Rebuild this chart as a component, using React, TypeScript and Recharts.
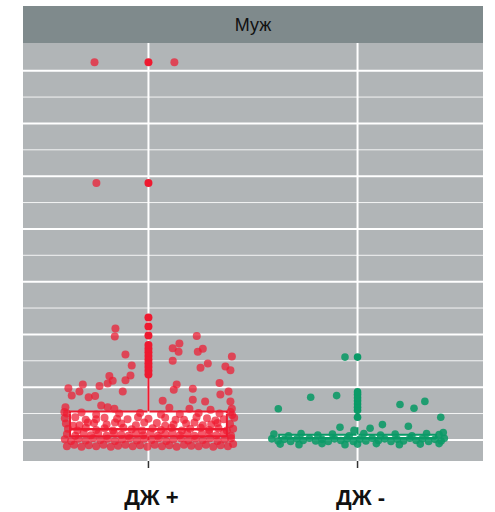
import React from 'react';
import {
  CartesianGrid,
  ComposedChart,
  ReferenceArea,
  ReferenceLine,
  Scatter,
  XAxis,
  YAxis,
} from 'recharts';

// categories on the x axis (1 = first, 2 = second)
const categories = ['ДЖ +', 'ДЖ -'];
const facetLabel = 'Муж';

// gridline values
const majorTicks = [0, 10, 20, 30, 40, 50, 60, 70];
const minorTicks = [5, 15, 25, 35, 45, 55, 65];

// jittered points away from the box: [offset from category, value]
const redSpread = [
  [-0.258, 71.6], [0.124, 71.6], [-0.249, 48.7],
  [-0.158, 21.1], [-0.161, 19.6], [-0.11, 16.2], [-0.08, 14.1], [-0.086, 12.2], [-0.11, 11.3],
  [-0.187, 12.1], [-0.171, 11.2], [-0.195, 10.7], [-0.234, 10.2], [-0.314, 10.5], [-0.383, 9.8],
  [-0.33, 9.2], [-0.367, 8.4], [-0.123, 9.2], [-0.286, 8.1], [-0.255, 8.3], [-0.226, 6.5],
  [-0.195, 6.2], [-0.163, 5.9], [-0.397, 6.2], [-0.402, 5.3],
  [0.231, 19.7], [0.148, 18.3], [0.116, 17.4], [0.144, 16.7], [0.236, 16.7], [0.26, 17.3],
  [0.116, 15.0], [0.399, 15.8], [0.284, 14.5], [0.249, 13.7], [0.368, 13.9], [0.392, 13.2],
  [0.135, 10.5], [0.121, 9.5], [0.212, 9.7], [0.34, 10.8], [0.383, 9.2], [0.344, 8.6],
  [0.068, 7.4], [0.212, 7.6], [0.271, 7.3], [0.392, 7.3], [0.1, 6.1], [0.196, 5.9],
  [0.297, 5.7], [0.399, 5.9], [0.392, 5.3],
];

// jittered points inside the dense band near zero
const redBand = [
  [-0.39, -1.2], [-0.355, -0.9], [-0.32, -1.3], [-0.285, -1.0], [-0.25, -1.2], [-0.215, -0.9],
  [-0.18, -1.3], [-0.145, -1.1], [-0.11, -0.9], [-0.075, -1.2], [-0.04, -1.0], [-0.005, -1.3],
  [0.03, -0.9], [0.065, -1.2], [0.1, -1.0], [0.135, -1.3], [0.17, -0.9], [0.205, -1.1],
  [0.24, -1.2], [0.275, -0.9], [0.31, -1.3], [0.345, -1.0], [0.38, -1.2], [0.405, -0.8],
  [-0.4, 0.1], [-0.37, -0.2], [-0.335, 0.2], [-0.3, -0.1], [-0.265, 0.3], [-0.23, 0],
  [-0.195, 0.2], [-0.16, -0.2], [-0.125, 0.1], [-0.09, 0.3], [-0.055, -0.1], [-0.02, 0.2],
  [0.015, 0], [0.05, 0.3], [0.085, -0.2], [0.12, 0.1], [0.155, 0.3], [0.19, -0.1],
  [0.225, 0.2], [0.26, 0], [0.295, 0.3], [0.33, -0.2], [0.365, 0.1], [0.395, 0.3],
  [-0.39, 1.1], [-0.35, 0.8], [-0.31, 1.3], [-0.275, 0.9], [-0.24, 1.2], [-0.2, 0.8],
  [-0.165, 1.3], [-0.13, 1.0], [-0.095, 0.8], [-0.06, 1.2], [-0.025, 0.9], [0.01, 1.3],
  [0.045, 0.8], [0.08, 1.1], [0.115, 1.3], [0.15, 0.9], [0.185, 1.2], [0.22, 0.8],
  [0.255, 1.1], [0.29, 1.3], [0.325, 0.9], [0.36, 1.2], [0.395, 0.8],
  [-0.385, 2.1], [-0.34, 1.8], [-0.3, 2.3], [-0.25, 1.9], [-0.21, 2.2], [-0.17, 1.8],
  [-0.12, 2.3], [-0.08, 2.0], [-0.03, 1.8], [0.02, 2.2], [0.06, 1.9], [0.11, 2.3],
  [0.16, 1.8], [0.2, 2.1], [0.25, 2.3], [0.29, 1.9], [0.335, 2.2], [0.375, 1.8], [0.405, 2.1],
  [-0.395, 3.1], [-0.36, 2.7], [-0.33, 2.8], [-0.29, 3.3], [-0.26, 3.2], [-0.2, 2.9],
  [-0.16, 3.3], [-0.13, 3.1], [-0.06, 2.8], [-0.02, 3.3], [0.04, 3.2], [0.08, 2.7],
  [0.12, 2.9], [0.18, 3.1], [0.22, 3.3], [0.26, 2.8], [0.3, 2.9], [0.33, 3.2], [0.39, 3.0],
  [-0.4, 4.1], [-0.35, 4.3], [-0.3, 3.8], [-0.25, 3.9], [-0.21, 4.2], [-0.15, 4.0], [-0.1, 3.9],
  [-0.05, 4.3], [0.0, 4.0], [0.08, 4.2], [0.13, 3.8], [0.17, 3.8], [0.23, 4.3], [0.28, 4.1],
  [0.32, 3.7], [0.36, 3.9], [0.41, 4.2],
  [-0.39, 5.0], [-0.32, 5.2], [-0.25, 4.8], [-0.14, 5.0], [-0.04, 5.1], [0.06, 4.8],
  [0.15, 4.9], [0.24, 5.1], [0.34, 5.0], [0.4, 4.7],
];

const greenSpread = [
  [-0.06, 15.7], [-0.224, 8.1], [-0.1, 8.4], [-0.379, 5.9], [0.203, 6.7], [0.27, 6.0],
  [0.322, 7.3], [0.398, 4.3], [-0.084, 2.4], [0.06, 2.2], [0.119, 2.9], [0.243, 2.6], [-0.017, 1.8],
];

const greenBand = [
  [-0.41, 0.2], [-0.38, -0.2], [-0.35, 0.1], [-0.32, -0.3], [-0.29, 0.2], [-0.26, -0.1],
  [-0.23, 0.3], [-0.2, -0.2], [-0.17, 0.1], [-0.14, -0.3], [-0.11, 0.2], [-0.08, -0.1],
  [-0.05, 0.2], [-0.02, -0.3], [0.01, 0.1], [0.04, -0.2], [0.07, 0.3], [0.1, -0.1],
  [0.13, 0.2], [0.16, -0.3], [0.19, 0.1], [0.22, -0.2], [0.25, 0.3], [0.28, -0.1],
  [0.31, 0.2], [0.34, -0.3], [0.37, 0.1], [0.4, -0.2], [0.415, 0.3],
  [-0.4, 1.1], [-0.33, 0.8], [-0.27, 1.2], [-0.19, 0.9], [-0.12, 1.1], [-0.04, 0.8],
  [0.03, 1.2], [0.11, 0.9], [0.18, 1.1], [0.26, 0.8], [0.33, 1.2], [0.39, 1.0], [0.41, 1.4],
  [-0.37, -0.8], [-0.28, -0.9], [-0.17, -0.7], [-0.06, -0.9], [0.0, -0.8], [0.09, -0.7],
  [0.2, -0.9], [0.3, -0.8], [0.39, -0.7],
];

// boxplot outliers drawn at the category centre
const redOutliers = [12.4, 13.1, 13.8, 14.5, 15.2, 15.9, 16.6, 17.3, 18.0, 19.8, 21.5, 23.2, 48.7, 71.6];
const greenOutliers = [4.3, 5.6, 6.2, 6.8, 7.4, 8.0, 8.6, 9.1, 15.7];

// box stats: [lower whisker, q1, median, q3, upper whisker]
const redBox = [0, 0.7, 2.0, 5.4, 11.8];
const greenBox = [0, 0, 0.3, 1.0, 2.4];

const RED = '#ee1a30';
const GREEN = '#0a9a67';
const BOX_HALF = 0.375;

const toPoints = (pts: number[][], cat: number) => pts.map(([dx, v]) => ({ x: cat + dx, y: v }));
const outlierPoints = (vals: number[], cat: number) => vals.map((v) => ({ x: cat, y: v }));

const dot = (fill: string, opacity: number, r: number) => (props: any) =>
  <circle cx={props.cx} cy={props.cy} r={r} fill={fill} fillOpacity={opacity} />;

const CategoryTick = (props: any) => {
  const { x, y, payload } = props;
  return (
    <text
      x={x + 3}
      y={y + 35}
      textAnchor="middle"
      fontFamily="'Liberation Sans', Arial, sans-serif"
      fontWeight="bold"
      fontSize={22}
      fill="#111"
    >
      {categories[payload.value - 1]}
    </text>
  );
};

const boxParts = (box: number[], cat: number, color: string) => [
  <ReferenceLine
    key={`wl${cat}`}
    segment={[{ x: cat, y: box[0] }, { x: cat, y: box[1] }]}
    stroke={color}
    strokeWidth={2}
  />,
  <ReferenceLine
    key={`wh${cat}`}
    segment={[{ x: cat, y: box[3] }, { x: cat, y: box[4] }]}
    stroke={color}
    strokeWidth={2}
  />,
  <ReferenceArea
    key={`b${cat}`}
    x1={cat - BOX_HALF}
    x2={cat + BOX_HALF}
    y1={box[1]}
    y2={box[3]}
    fill="#ffffff"
    fillOpacity={1}
    stroke={color}
    strokeWidth={2}
  />,
  <ReferenceLine
    key={`m${cat}`}
    segment={[{ x: cat - BOX_HALF, y: box[2] }, { x: cat + BOX_HALF, y: box[2] }]}
    stroke={color}
    strokeWidth={2.5}
  />,
];

export default function App() {
  return (
    <div style={{ position: 'absolute', left: 0, top: 0, width: 495, height: 512, background: '#fff' }}>
      <div
        style={{
          position: 'absolute',
          left: 23,
          top: 6,
          width: 460,
          height: 37,
          background: '#7f8a8c',
          color: '#111',
          fontFamily: "'Liberation Sans', Arial, sans-serif",
          fontSize: 18,
          lineHeight: '39px',
          textAlign: 'center',
        }}
      >
        {facetLabel}
      </div>
      <ComposedChart width={495} height={512} margin={{ top: 43, right: 12, bottom: 0, left: 23 }}>
        <CartesianGrid fill="#b1b5b7" horizontal={false} vertical={false} />
        <XAxis
          dataKey="x"
          type="number"
          domain={[0.4, 2.6]}
          ticks={[1, 2]}
          allowDataOverflow
          axisLine={false}
          tickLine={{ stroke: '#333', strokeWidth: 1.5 }}
          tickSize={7}
          height={51}
          tick={<CategoryTick />}
        />
        <YAxis dataKey="y" type="number" domain={[-4.0, 75.25]} allowDataOverflow hide />
        {minorTicks.map((v) => (
          <ReferenceLine key={`mi${v}`} y={v} stroke="#ffffff" strokeOpacity={0.85} strokeWidth={1} />
        ))}
        {majorTicks.map((v) => (
          <ReferenceLine key={`ma${v}`} y={v} stroke="#ffffff" strokeWidth={2} />
        ))}
        {[1, 2].map((c) => (
          <ReferenceLine key={`vx${c}`} x={c} stroke="#ffffff" strokeWidth={2} />
        ))}
        {boxParts(redBox, 1, RED)}
        {boxParts(greenBox, 2, GREEN)}
        <Scatter data={toPoints(redBand, 1)} shape={dot(RED, 0.72, 4)} isAnimationActive={false} />
        <Scatter data={toPoints(redSpread, 1)} shape={dot(RED, 0.72, 4)} isAnimationActive={false} />
        <Scatter data={toPoints(greenBand, 2)} shape={dot(GREEN, 0.88, 3.8)} isAnimationActive={false} />
        <Scatter data={toPoints(greenSpread, 2)} shape={dot(GREEN, 0.88, 3.8)} isAnimationActive={false} />
        <Scatter data={outlierPoints(redOutliers, 1)} shape={dot(RED, 1, 4)} isAnimationActive={false} />
        <Scatter data={outlierPoints(greenOutliers, 2)} shape={dot(GREEN, 1, 3.8)} isAnimationActive={false} />
      </ComposedChart>
    </div>
  );
}
